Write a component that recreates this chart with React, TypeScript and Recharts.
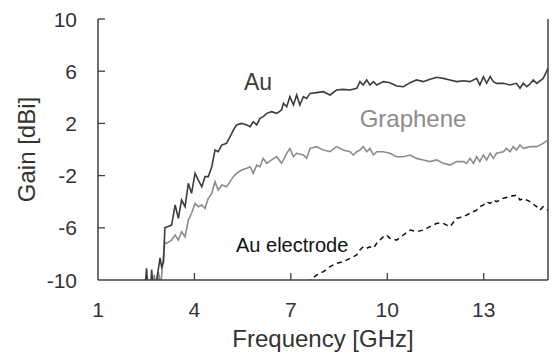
import {
  LineChart,
  Line,
  XAxis,
  YAxis,
  ReferenceLine,
  ReferenceDot,
} from "recharts";

const xTicks = [1, 4, 7, 10, 13];
const yTicks = [-10, -6, -2, 2, 6, 10];

const auFreq = [
  2.45, 2.51, 2.56, 2.63, 2.67, 2.72, 2.78, 2.85, 2.93, 2.98, 3.04, 3.08, 3.29,
  3.4, 3.5, 3.6, 3.71, 3.81, 3.91, 4.02, 4.12, 4.23, 4.33, 4.43, 4.54, 4.64,
  4.74, 4.85, 5.0, 5.11, 5.21, 5.31, 5.47, 5.63, 5.73, 5.83, 5.94, 6.04, 6.14,
  6.25, 6.4, 6.56, 6.71, 6.77, 6.87, 6.97, 7.08, 7.18, 7.28, 7.39, 7.49, 7.6,
  7.8, 8.01, 8.22, 8.42, 8.63, 8.84, 9.05, 9.15, 9.25, 9.36, 9.46, 9.57, 9.67,
  9.88, 10.08, 10.29, 10.5, 10.71, 10.91, 11.12, 11.33, 11.54, 11.74, 11.95,
  12.16, 12.37, 12.57, 12.78, 12.88, 12.99, 13.09, 13.2, 13.3, 13.4, 13.61,
  13.82, 14.02, 14.13, 14.23, 14.34, 14.44, 14.54, 14.65, 14.85, 15.0,
];
const auGain = [
  -11, -9.1, -11, -11, -9.2, -11, -10.6, -9.6, -8.3, -9.0, -8.6, -6.0, -5.79,
  -4.25, -5.27, -3.87, -4.38, -2.59, -3.36, -1.83, -2.34, -2.85, -2.08, -2.08,
  -1.32, -0.04, -0.17, 0.34, 0.47, 0.98, 1.49, 1.88, 2.0, 1.88, 1.75, 2.13,
  1.88, 2.39, 2.52, 2.77, 2.9, 2.77, 3.03, 3.54, 3.28, 4.05, 3.41, 4.18, 3.41,
  4.05, 3.92, 4.3, 4.36, 4.43, 4.18, 4.56, 4.61, 4.56, 4.69, 5.2, 4.94, 5.33,
  4.94, 5.2, 4.94, 5.2, 5.12, 4.87, 4.81, 5.12, 5.33, 5.2, 5.38, 5.53, 5.45,
  5.33, 5.2, 5.27, 5.2, 5.45, 4.94, 5.58, 5.07, 5.58, 5.2, 5.07, 5.07, 4.94,
  5.07, 4.69, 5.07, 4.81, 5.02, 5.33, 5.07, 5.45, 6.22,
];

const grFreq = [
  2.55, 2.62, 2.67, 2.75, 2.82, 2.88, 2.95, 3.02, 3.08, 3.14, 3.29, 3.4, 3.5,
  3.6, 3.71, 3.81, 3.91, 4.02, 4.12, 4.23, 4.33, 4.43, 4.54, 4.64, 4.74, 4.85,
  5.0, 5.11, 5.21, 5.31, 5.47, 5.63, 5.73, 5.83, 5.94, 6.04, 6.14, 6.25, 6.4,
  6.56, 6.71, 6.87, 6.97, 7.08, 7.18, 7.39, 7.49, 7.6, 7.8, 8.01, 8.22, 8.42,
  8.63, 8.84, 8.94, 9.05, 9.15, 9.25, 9.36, 9.46, 9.57, 9.67, 9.88, 10.08,
  10.29, 10.5, 10.71, 10.91, 11.12, 11.33, 11.54, 11.74, 11.95, 12.16, 12.37,
  12.47, 12.57, 12.68, 12.78, 12.88, 12.99, 13.09, 13.2, 13.3, 13.4, 13.61,
  13.71, 13.82, 13.92, 14.02, 14.13, 14.23, 14.44, 14.65, 14.85, 15.0,
];
const grGain = [
  -11, -10.3, -11, -9.6, -11, -9.4, -10.4, -8.6, -7.1, -7.19, -6.94, -6.55,
  -6.94, -6.3, -6.68, -5.4, -4.89, -4.13, -4.38, -4.25, -4.51, -3.74, -3.36,
  -2.46, -3.1, -2.72, -2.85, -2.46, -2.08, -1.83, -1.57, -1.44, -1.32, -1.83,
  -1.19, -1.32, -0.68, -1.06, -0.8, -0.55, -1.06, -0.29, 0.09, -0.55, -0.29,
  -0.42, -0.68, 0.09, 0.22, -0.04, -0.17, 0.22, -0.04, -0.17, -0.42, -0.17,
  -0.04, 0.22, -0.17, 0.09, -0.42, -0.17, -0.17, -0.29, -0.55, -0.55, -0.42,
  -0.68, -0.8, -0.93, -0.8, -1.06, -1.19, -0.93, -0.93, -1.06, -0.68, -1.06,
  -0.55, -0.93, -0.42, -0.8, -0.29, -0.68, -0.29, -0.17, 0.09, -0.17, 0.22,
  -0.04, 0.34, 0.09, 0.22, 0.22, 0.47, 0.73,
];

const elFreq = [
  7.55, 7.6, 7.8, 8.01, 8.22, 8.42, 8.63, 8.84, 9.05, 9.15, 9.25, 9.36, 9.46,
  9.57, 9.67, 9.77, 9.88, 9.98, 10.08, 10.29, 10.5, 10.71, 10.91, 11.12, 11.33,
  11.54, 11.74, 11.95, 12.16, 12.37, 12.57, 12.78, 12.88, 12.99, 13.09, 13.2,
  13.3, 13.4, 13.61, 13.82, 14.02, 14.13, 14.23, 14.44, 14.65, 14.75, 14.85,
  15.0,
];
const elGain = [
  -10.3, -10.0, -9.62, -9.36, -8.98, -8.72, -8.6, -8.34, -8.08, -7.7, -7.45,
  -7.57, -7.45, -7.57, -7.19, -6.94, -6.68, -6.55, -6.81, -6.94, -6.55, -6.17,
  -6.3, -6.17, -5.91, -5.66, -5.66, -5.91, -5.27, -5.15, -4.89, -4.64, -4.38,
  -4.25, -4.0, -4.13, -3.87, -4.0, -3.74, -3.61, -3.49, -3.87, -3.74, -4.0,
  -4.38, -4.64, -4.38, -4.64,
];

const toPoints = (f: number[], g: number[]) =>
  f.map((x, i) => ({ freq: x, gain: g[i] }));

const auData = toPoints(auFreq, auGain);
const grData = toPoints(grFreq, grGain);
const elData = toPoints(elFreq, elGain);

const FONT = "Arial, 'Liberation Sans', sans-serif";
const AXIS = "#404040";

const XTick = (props: any) => {
  const { x, y, payload } = props;
  return (
    <g>
      {payload.value !== 1 && (
        <line x1={x} y1={y} x2={x} y2={y - 7} stroke={AXIS} strokeWidth={1.3} />
      )}
      <text
        x={x}
        y={y + 37}
        textAnchor="middle"
        fontSize={21}
        fontFamily={FONT}
        fill="#333"
      >
        {payload.value}
      </text>
    </g>
  );
};

const YTick = (props: any) => {
  const { x, y, payload } = props;
  return (
    <g>
      {payload.value !== -10 && (
        <line x1={x} y1={y} x2={x + 7} y2={y} stroke={AXIS} strokeWidth={1.3} />
      )}
      <text
        x={x - 21}
        y={y + 7.5}
        textAnchor="end"
        fontSize={21}
        fontFamily={FONT}
        fill="#333"
      >
        {payload.value}
      </text>
    </g>
  );
};

const YTitle = (props: any) => {
  const vb = props.viewBox;
  const cx = vb.x + 26;
  const cy = vb.y + vb.height / 2;
  return (
    <text
      x={cx}
      y={cy}
      transform={`rotate(-90, ${cx}, ${cy})`}
      textAnchor="middle"
      dominantBaseline="central"
      fontSize={24}
      fontFamily={FONT}
      fill="#333"
    >
      Gain [dBi]
    </text>
  );
};

export default function App() {
  return (
    <div style={{ position: "absolute", left: 0, top: 0, background: "#fff" }}>
      <LineChart
        width={553}
        height={355}
        margin={{ top: 19, right: 5, left: 0, bottom: 0 }}
      >
        <XAxis
          type="number"
          dataKey="freq"
          domain={[1, 15]}
          ticks={xTicks}
          allowDataOverflow
          height={75}
          stroke={AXIS}
          strokeWidth={1.5}
          tickLine={false}
          tickSize={0}
          tickMargin={0}
          tick={<XTick />}
          label={{
            value: "Frequency [GHz]",
            position: "insideBottom",
            offset: 8,
            fontSize: 24,
            fontFamily: FONT,
            fill: "#333",
          }}
        />
        <YAxis
          type="number"
          dataKey="gain"
          domain={[-10, 10]}
          ticks={yTicks}
          allowDataOverflow
          width={98}
          stroke={AXIS}
          strokeWidth={1.5}
          tickLine={false}
          tickSize={0}
          tickMargin={0}
          tick={<YTick />}
          label={{ content: YTitle }}
        />
        <ReferenceLine x={15} stroke={AXIS} strokeWidth={1.5} />
        <Line
          data={elData}
          dataKey="gain"
          stroke="#111"
          strokeWidth={1.5}
          strokeDasharray="5 4"
          dot={false}
          isAnimationActive={false}
        />
        <Line
          data={grData}
          dataKey="gain"
          stroke="#8c8c8c"
          strokeWidth={1.6}
          dot={false}
          isAnimationActive={false}
        />
        <Line
          data={auData}
          dataKey="gain"
          stroke="#3c3c3c"
          strokeWidth={1.6}
          dot={false}
          isAnimationActive={false}
        />
        <ReferenceDot
          x={5.98}
          y={5.17}
          r={0}
          stroke="none"
          label={{
            value: "Au",
            position: "center",
            fontSize: 23,
            fontFamily: FONT,
            fill: "#3c3c3c",
          }}
        />
        <ReferenceDot
          x={10.8}
          y={2.4}
          r={0}
          stroke="none"
          label={{
            value: "Graphene",
            position: "center",
            fontSize: 24,
            fontFamily: FONT,
            fill: "#8c8c8c",
          }}
        />
        <ReferenceDot
          x={7.04}
          y={-7.3}
          r={0}
          stroke="none"
          label={{
            value: "Au electrode",
            position: "center",
            fontSize: 20,
            fontFamily: FONT,
            fill: "#111",
          }}
        />
      </LineChart>
    </div>
  );
}
